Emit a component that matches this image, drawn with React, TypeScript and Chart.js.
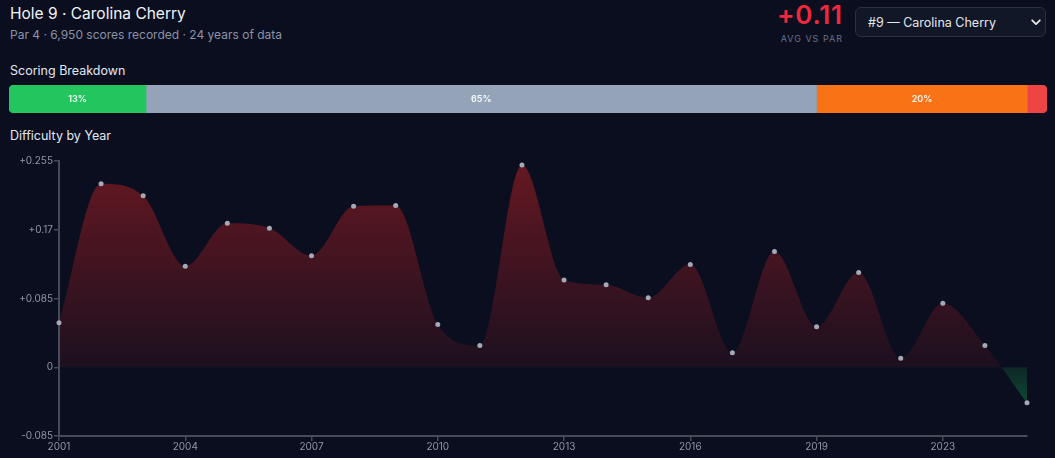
import React, { useEffect, useRef } from "react";
import { Chart, registerables } from "chart.js";

Chart.register(...registerables);

// ---------- data ----------
const years = [
  "2001", "2002", "2003", "2004", "2005", "2006", "2007", "2008", "2009", "2010",
  "2011", "2012", "2013", "2014", "2015", "2016", "2017", "2018", "2019",
  "2021", "2022", "2023", "2024", "2025",
];
const difficulty = [
  0.055, 0.227, 0.212, 0.125, 0.178, 0.172, 0.138, 0.199, 0.2, 0.053,
  0.027, 0.25, 0.108, 0.102, 0.086, 0.127, 0.018, 0.143, 0.05,
  0.117, 0.011, 0.079, 0.027, -0.044,
];
const yTicks = [-0.085, 0, 0.085, 0.17, 0.255];

const breakdownLabels = ["Birdie or better", "Par", "Bogey", "Double bogey+"];
const breakdownValues = [13.2, 64.6, 20.3, 1.9];
const breakdownColors = ["#22c55e", "#94a3b8", "#f97316", "#ef4444"];

// ---------- style ----------
const BG = "#0a0e1f";
const FONT = "Inter, 'Noto Sans', 'DejaVu Sans', sans-serif";
const AXIS = "#474b57";
const TICK = "#9096a6";

function fmtTick(v: number): string {
  if (Math.abs(v) < 1e-9) return "0";
  const s = parseFloat(v.toFixed(3)).toString();
  return v > 0 ? "+" + s : s;
}

const barLabelPlugin = {
  id: "barLabels",
  afterDatasetsDraw(chart: any) {
    const ctx = chart.ctx;
    ctx.save();
    ctx.font = `600 9px ${FONT}`;
    ctx.fillStyle = "rgba(255,255,255,0.95)";
    ctx.textAlign = "center";
    ctx.textBaseline = "middle";
    chart.data.datasets.forEach((ds: any, i: number) => {
      const el = chart.getDatasetMeta(i).data[0];
      if (!el) return;
      const w = Math.abs(el.x - el.base);
      if (w < 30) return;
      ctx.fillText(Math.round(ds.data[0]) + "%", (el.x + el.base) / 2, el.y + 0.5);
    });
    ctx.restore();
  },
};

export default function App() {
  const lineRef = useRef<HTMLCanvasElement | null>(null);
  const barRef = useRef<HTMLCanvasElement | null>(null);

  useEffect(() => {
    document.body.style.background = BG;
    document.body.style.margin = "0";
    const total = breakdownValues.reduce((a, b) => a + b, 0);
    const last = breakdownValues.length - 1;

    const bar = new Chart(barRef.current as HTMLCanvasElement, {
      type: "bar",
      data: {
        labels: ["Scoring"],
        datasets: breakdownValues.map((v, i) => ({
          label: breakdownLabels[i],
          data: [v],
          backgroundColor: breakdownColors[i],
          borderWidth: 0,
          borderSkipped: false,
          borderRadius:
            i === 0
              ? { topLeft: 5, bottomLeft: 5, topRight: 0, bottomRight: 0 }
              : i === last
              ? { topLeft: 0, bottomLeft: 0, topRight: 5, bottomRight: 5 }
              : 0,
          barPercentage: 1,
          categoryPercentage: 1,
        })),
      },
      options: {
        indexAxis: "y",
        animation: false,
        responsive: false,
        layout: { padding: 0 },
        plugins: { legend: { display: false }, tooltip: { enabled: false } },
        scales: {
          x: { stacked: true, display: false, min: 0, max: total },
          y: { stacked: true, display: false },
        },
      } as any,
      plugins: [barLabelPlugin],
    });

    const line = new Chart(lineRef.current as HTMLCanvasElement, {
      type: "line",
      data: {
        labels: years,
        datasets: [
          {
            data: difficulty,
            borderWidth: 0,
            borderColor: "rgba(0,0,0,0)",
            cubicInterpolationMode: "monotone",
            fill: { target: "origin" },
            backgroundColor: (c: any) => {
              const chart = c.chart;
              const area = chart.chartArea;
              if (!area) return "rgba(220,38,38,0.25)";
              const zero = chart.scales.y.getPixelForValue(0);
              const z = Math.min(1, Math.max(0, (zero - area.top) / (area.bottom - area.top)));
              const g = chart.ctx.createLinearGradient(0, area.top, 0, area.bottom);
              g.addColorStop(0, "rgba(220,38,38,0.44)");
              g.addColorStop(z, "rgba(220,38,38,0.09)");
              g.addColorStop(z, "rgba(34,197,94,0.14)");
              g.addColorStop(1, "rgba(34,197,94,0.48)");
              return g;
            },
            pointRadius: 2.5,
            pointBackgroundColor: "#a4a9b6",
            pointBorderWidth: 0,
            pointHoverRadius: 2.5,
            clip: false,
          } as any,
        ],
      },
      options: {
        animation: false,
        responsive: false,
        layout: { padding: { top: 11, right: 5, bottom: 5, left: 0 } },
        plugins: { legend: { display: false }, tooltip: { enabled: false } },
        scales: {
          x: {
            grid: { display: true, drawOnChartArea: false, color: AXIS, tickLength: 5, lineWidth: 1.5 },
            border: { color: AXIS, width: 2 },
            ticks: {
              color: TICK,
              font: { family: FONT, size: 10 },
              padding: 0,
              maxRotation: 0,
              autoSkip: true,
              maxTicksLimit: 8,
            },
          },
          y: {
            min: -0.085,
            max: 0.255,
            afterBuildTicks: (s: any) => {
              s.ticks = yTicks.map((v) => ({ value: v }));
            },
            afterFit: (s: any) => {
              s.width = 59;
            },
            grid: { display: true, drawOnChartArea: false, color: AXIS, tickLength: 5, lineWidth: 1.5 },
            border: { color: AXIS, width: 2 },
            ticks: {
              color: TICK,
              font: { family: FONT, size: 10 },
              padding: 1,
              callback: (v: any) => fmtTick(Number(v)),
            },
          },
        },
      } as any,
    });

    return () => {
      bar.destroy();
      line.destroy();
    };
  }, []);

  const abs = (o: React.CSSProperties): React.CSSProperties => ({ position: "absolute", ...o });

  return (
    <div
      style={{
        position: "absolute",
        left: 0,
        top: 0,
        width: 1055,
        height: 458,
        background: BG,
        overflow: "hidden",
        fontFamily: FONT,
      }}
    >
      <div style={abs({ left: 10, top: 5.5, fontSize: 15.5, lineHeight: 1, fontWeight: 400, color: "#f1f5f9", whiteSpace: "nowrap" })}>
        Hole 9 · Carolina Cherry
      </div>
      <div style={abs({ left: 10, top: 28.5, fontSize: 12, lineHeight: 1, color: "#8a92a5", whiteSpace: "nowrap" })}>
        Par 4 · 6,950 scores recorded · 24 years of data
      </div>

      <div
        style={abs({
          right: 213,
          top: 1.5,
          fontSize: 26,
          lineHeight: 1,
          fontWeight: 600,
          letterSpacing: 0.8,
          color: "#f0283c",
          textAlign: "right",
          whiteSpace: "nowrap",
          marginRight: -0.8,
        })}
      >
        +0.11
      </div>
      <div
        style={abs({
          right: 213,
          top: 34,
          fontSize: 9,
          lineHeight: 1,
          letterSpacing: 1,
          color: "#6b7283",
          textAlign: "right",
          whiteSpace: "nowrap",
          marginRight: -1,
        })}
      >
        AVG VS PAR
      </div>

      <div
        style={abs({
          left: 855,
          top: 7,
          width: 191,
          height: 30,
          boxSizing: "border-box",
          border: "1px solid #283042",
          borderRadius: 6,
          background: "#111727",
        })}
      >
        <div style={abs({ left: 12, top: 8.5, fontSize: 12.5, lineHeight: 1, color: "#e5e7eb", whiteSpace: "nowrap" })}>
          #9 — Carolina Cherry
        </div>
        <svg style={abs({ left: 175, top: 11 })} width="10" height="7" viewBox="0 0 10 7">
          <path d="M1.2 1.3 L5 5.1 L8.8 1.3" fill="none" stroke="#e5e7eb" strokeWidth="1.8" strokeLinecap="round" strokeLinejoin="round" />
        </svg>
      </div>

      <div style={abs({ left: 10, top: 65, fontSize: 12.5, lineHeight: 1, fontWeight: 400, color: "#e2e8f0", whiteSpace: "nowrap" })}>
        Scoring Breakdown
      </div>
      <canvas ref={barRef} width={1038} height={28} style={abs({ left: 9, top: 85, width: 1038, height: 28 })} />

      <div style={abs({ left: 10, top: 129.5, fontSize: 12.5, lineHeight: 1, fontWeight: 400, color: "#e2e8f0", whiteSpace: "nowrap" })}>
        Difficulty by Year
      </div>
      <canvas ref={lineRef} width={1032} height={308} style={abs({ left: 0, top: 150, width: 1032, height: 308 })} />
    </div>
  );
}
